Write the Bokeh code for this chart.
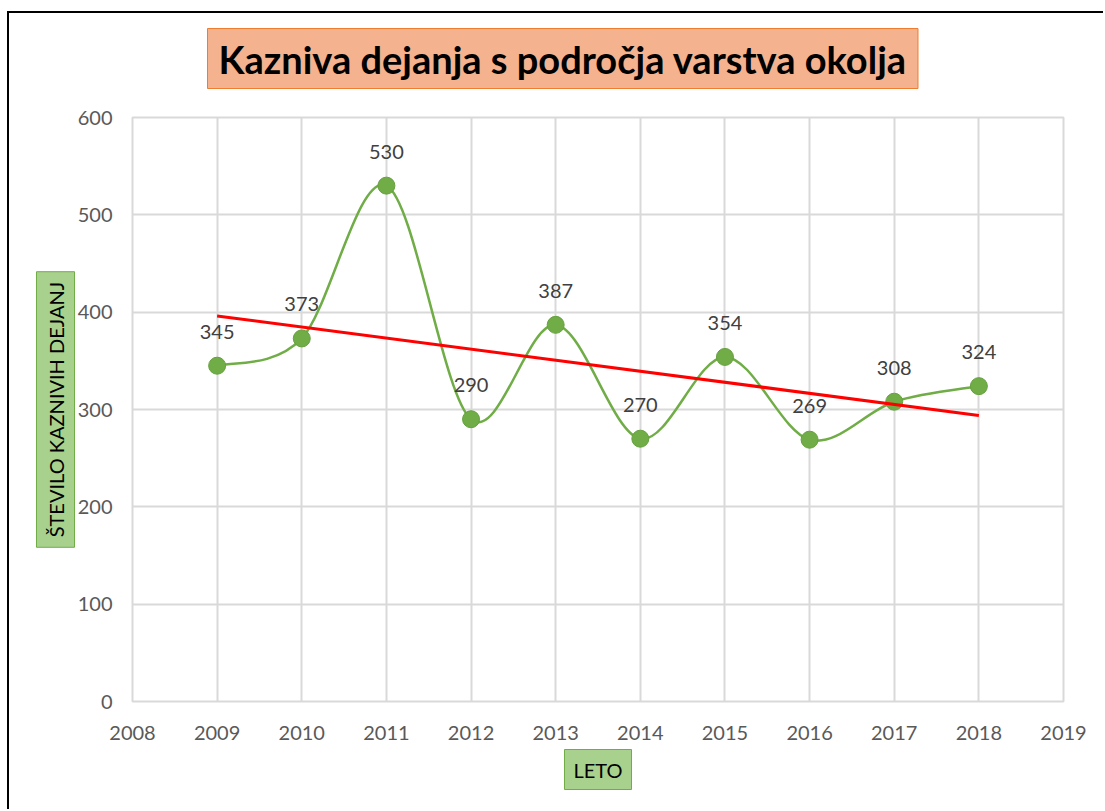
import numpy as np
from bokeh.plotting import figure
from bokeh.models import Title, FixedTicker, Range1d
from bokeh.core.properties import value
from bokeh.embed import file_html
from bokeh.resources import INLINE

# ---- data ----
years = [2009, 2010, 2011, 2012, 2013, 2014, 2015, 2016, 2017, 2018]
counts = [345, 373, 530, 290, 387, 270, 354, 269, 308, 324]
x_ticks = list(range(2008, 2020))
y_ticks = [0, 100, 200, 300, 400, 500, 600]
title_text = "Kazniva dejanja s področja varstva okolja"
x_label = "LETO"
y_label = "ŠTEVILO KAZNIVIH DEJANJ"

FONT = "Lato"
GREEN = "#70AD47"
GRID = "#D9D9D9"

p = figure(width=1096, height=798,
           x_range=Range1d(x_ticks[0], x_ticks[-1]),
           y_range=Range1d(y_ticks[0], y_ticks[-1]),
           output_backend="svg", toolbar_location=None,
           min_border_left=123, min_border_right=42,
           min_border_top=104, min_border_bottom=110)
p.styles = {"border-left": "2px solid black", "border-top": "2px solid black",
            "margin-top": "11px", "margin-left": "7px"}
p.outline_line_color = GRID
p.outline_line_width = 2
p.background_fill_color = "white"
p.border_fill_color = "white"

# spacer between title and plot frame (closest panel above)
spacer = Title(text=" ", text_font_size="1px", standoff=13)
p.add_layout(spacer, "above")

# title
t = Title(text=title_text, align="left", offset=75, standoff=26,
          text_font=FONT, text_font_size="38px", text_font_style="bold",
          text_color="black", background_fill_color="#F5B28E",
          border_line_color="#ED7D31", border_line_width=1,
          padding=dict(left=11, right=11, top=7, bottom=7))
p.add_layout(t, "above")

# axis titles
yl = Title(text=y_label, align="center", standoff=0,
           text_font=FONT, text_font_size="20px", text_font_style="normal",
           text_color="black", background_fill_color="#A8D18D",
           border_line_color=GREEN, border_line_width=1,
           padding=dict(left=10, right=10, top=7, bottom=7))
p.add_layout(yl, "left")
xl = Title(text=x_label, align="center", standoff=10,
           text_font=FONT, text_font_size="20px", text_font_style="normal",
           text_color="black", background_fill_color="#A8D18D",
           border_line_color=GREEN, border_line_width=1,
           padding=dict(left=9, right=9, top=8, bottom=8))
p.add_layout(xl, "below")

# axes
for ax in (p.xaxis[0], p.yaxis[0]):
    ax.axis_line_color = None
    ax.major_tick_line_color = None
    ax.minor_tick_line_color = None
    ax.major_tick_out = 0
    ax.major_tick_in = 0
    ax.minor_tick_out = 0
    ax.minor_tick_in = 0
    ax.major_label_text_font = FONT
    ax.major_label_text_font_size = "20px"
    ax.major_label_text_color = "#595959"
    ax.major_label_standoff = 20
p.xaxis.ticker = FixedTicker(ticks=x_ticks)
p.yaxis.ticker = FixedTicker(ticks=y_ticks)
p.xaxis.major_label_standoff = 24

p.xgrid.ticker = FixedTicker(ticks=x_ticks)
p.ygrid.ticker = FixedTicker(ticks=y_ticks)
for g in (p.xgrid[0], p.ygrid[0]):
    g.grid_line_color = GRID
    g.grid_line_width = 2

# smoothed line (Catmull-Rom as cubic Bezier)
xs = np.array(years, dtype=float)
ys = np.array(counts, dtype=float)
n = len(xs)
xp = np.concatenate([[xs[0]], xs, [xs[-1]]])
yp = np.concatenate([[ys[0]], ys, [ys[-1]]])
i = np.arange(n - 1)
cx0 = xs[i] + (xp[i + 2] - xp[i]) / 6.0
cy0 = ys[i] + (yp[i + 2] - yp[i]) / 6.0
cx1 = xs[i + 1] - (xp[i + 3] - xp[i + 1]) / 6.0
cy1 = ys[i + 1] - (yp[i + 3] - yp[i + 1]) / 6.0
p.bezier(x0=xs[:-1], y0=ys[:-1], x1=xs[1:], y1=ys[1:],
         cx0=cx0, cy0=cy0, cx1=cx1, cy1=cy1,
         line_color=GREEN, line_width=2.5)

# markers
p.scatter(years, counts, size=17, fill_color=GREEN, line_color="#67A03F",
          line_width=1)

# linear trend line
slope, intercept = np.polyfit(xs, ys, 1)
tx = [years[0], years[-1]]
ty = [slope * v + intercept for v in tx]
p.line(tx, ty, line_color="#FF0000", line_width=3)

# data labels
p.text(x=years, y=counts, text=[str(c) for c in counts], y_offset=-34,
       text_align="center", text_baseline="middle",
       text_font=value(FONT), text_font_size="20px", text_color="#404040")

open("out.html", "w").write(file_html(p, INLINE))
